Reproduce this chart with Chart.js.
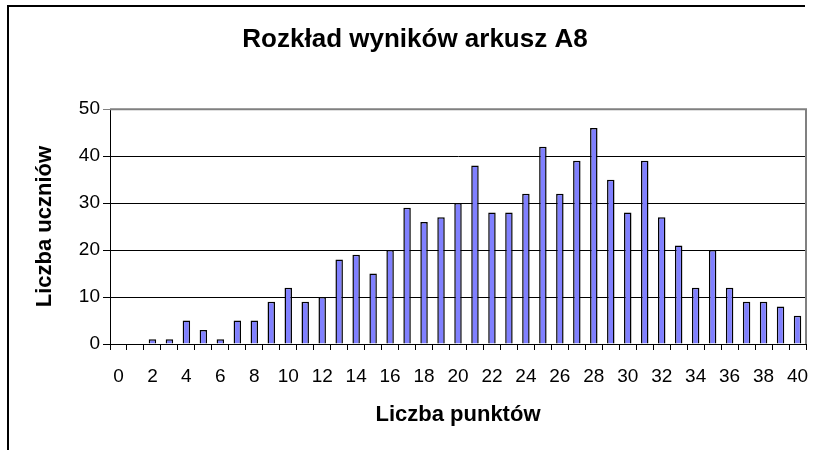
<!DOCTYPE html>
<html>
<head>
<meta charset="utf-8">
<title>Rozkład wyników arkusz A8</title>
<style>
    html, body {
        margin: 0;
        padding: 0;
        background: #fff;
        overflow: hidden;
    }
    .frame {
        position: absolute;
        left: 7px;
        top: 5px;
        width: 796px;
        height: 460px;
        border-top: 2px solid #000;
        border-left: 2px solid #000;
    }
    .chart-container {
        position: absolute;
        left: 0;
        top: 0;
        width: 813px;
        height: 450px;
    }
</style>
<script src="https://cdn.jsdelivr.net/npm/chart.js"></script>
</head>
<body>
<div class="frame"></div>
<div class="chart-container">
    <canvas id="scoreChart" width="813" height="450"></canvas>
</div>
<script>
    // points scored (x) and number of pupils (y)
    var points = ['0', '1', '2', '3', '4', '5', '6', '7', '8', '9', '10',
        '11', '12', '13', '14', '15', '16', '17', '18', '19', '20',
        '21', '22', '23', '24', '25', '26', '27', '28', '29', '30',
        '31', '32', '33', '34', '35', '36', '37', '38', '39', '40'];
    var pupils = [0, 0, 1, 1, 5, 3, 1, 5, 5, 9, 12,
        9, 10, 18, 19, 15, 20, 29, 26, 27, 30,
        38, 28, 28, 32, 42, 32, 39, 46, 35, 28,
        39, 27, 21, 12, 20, 12, 9, 9, 8, 6];
    var yTicks = [0, 10, 20, 30, 40, 50];

    var fontFamily = '"Liberation Sans", Arial, sans-serif';

    // gray frame around the plot area (top and right sides)
    var plotBorder = {
        id: 'plotBorder',
        beforeDatasetsDraw: function (chart) {
            var a = chart.chartArea;
            var c = chart.ctx;
            c.save();
            c.strokeStyle = '#808080';
            c.lineWidth = 2;
            c.beginPath();
            c.moveTo(a.left, a.top);
            c.lineTo(a.right, a.top);
            c.lineTo(a.right, a.bottom);
            c.stroke();
            c.restore();
        }
    };

    var ctx = document.getElementById('scoreChart').getContext('2d');
    var scoreChart = new Chart(ctx, {
        type: 'bar',
        data: {
            labels: points,
            datasets: [{
                label: 'Liczba uczniów',
                data: pupils,
                backgroundColor: '#8080ff',
                borderColor: '#000',
                borderWidth: 1.5,
                categoryPercentage: 1,
                barPercentage: 0.44
            }]
        },
        options: {
            responsive: false,
            animation: false,
            devicePixelRatio: 1,
            layout: {
                // left padding shifts the title centre to match the original
                padding: { left: 24, right: 7, top: 0, bottom: 0 }
            },
            plugins: {
                legend: { display: false },
                tooltip: { enabled: false },
                title: {
                    display: true,
                    text: 'Rozkład wyników arkusz A8',
                    color: '#000',
                    font: { family: fontFamily, size: 26, weight: 'bold' },
                    padding: { top: 24, bottom: 54 }
                }
            },
            scales: {
                x: {
                    offset: true,
                    afterFit: function (scale) {
                        scale.height = 106;
                        // no extra room for the edge labels
                        scale.paddingLeft = 0;
                        scale.paddingRight = 0;
                    },
                    grid: {
                        offset: true,
                        drawOnChartArea: false,
                        tickLength: 6,
                        color: '#000'
                    },
                    border: { color: '#000', width: 1 },
                    ticks: {
                        autoSkip: false,
                        maxRotation: 0,
                        padding: 15,
                        color: '#000',
                        font: { family: fontFamily, size: 19 },
                        callback: function (value, index) {
                            return index % 2 === 0 ? points[index] : '';
                        }
                    },
                    title: {
                        display: true,
                        text: 'Liczba punktów',
                        color: '#000',
                        font: { family: fontFamily, size: 22, weight: 'bold' },
                        padding: { top: 0, bottom: 22 }
                    }
                },
                y: {
                    min: yTicks[0],
                    max: yTicks[yTicks.length - 1],
                    afterFit: function (scale) { scale.width = 86; },
                    afterBuildTicks: function (scale) {
                        scale.ticks = yTicks.map(function (v) { return { value: v }; });
                    },
                    grid: {
                        tickLength: 7,
                        color: function (c) {
                            return c.tick && c.tick.value === 50 ? '#808080' : '#000';
                        }
                    },
                    border: { color: '#000', width: 1 },
                    ticks: {
                        padding: 3,
                        color: '#000',
                        font: { family: fontFamily, size: 19 }
                    },
                    title: {
                        display: true,
                        text: 'Liczba uczniów',
                        color: '#000',
                        font: { family: fontFamily, size: 22, weight: 'bold' },
                        padding: { top: 8, bottom: 0 }
                    }
                }
            }
        },
        plugins: [plotBorder]
    });
</script>
</body>
</html>
